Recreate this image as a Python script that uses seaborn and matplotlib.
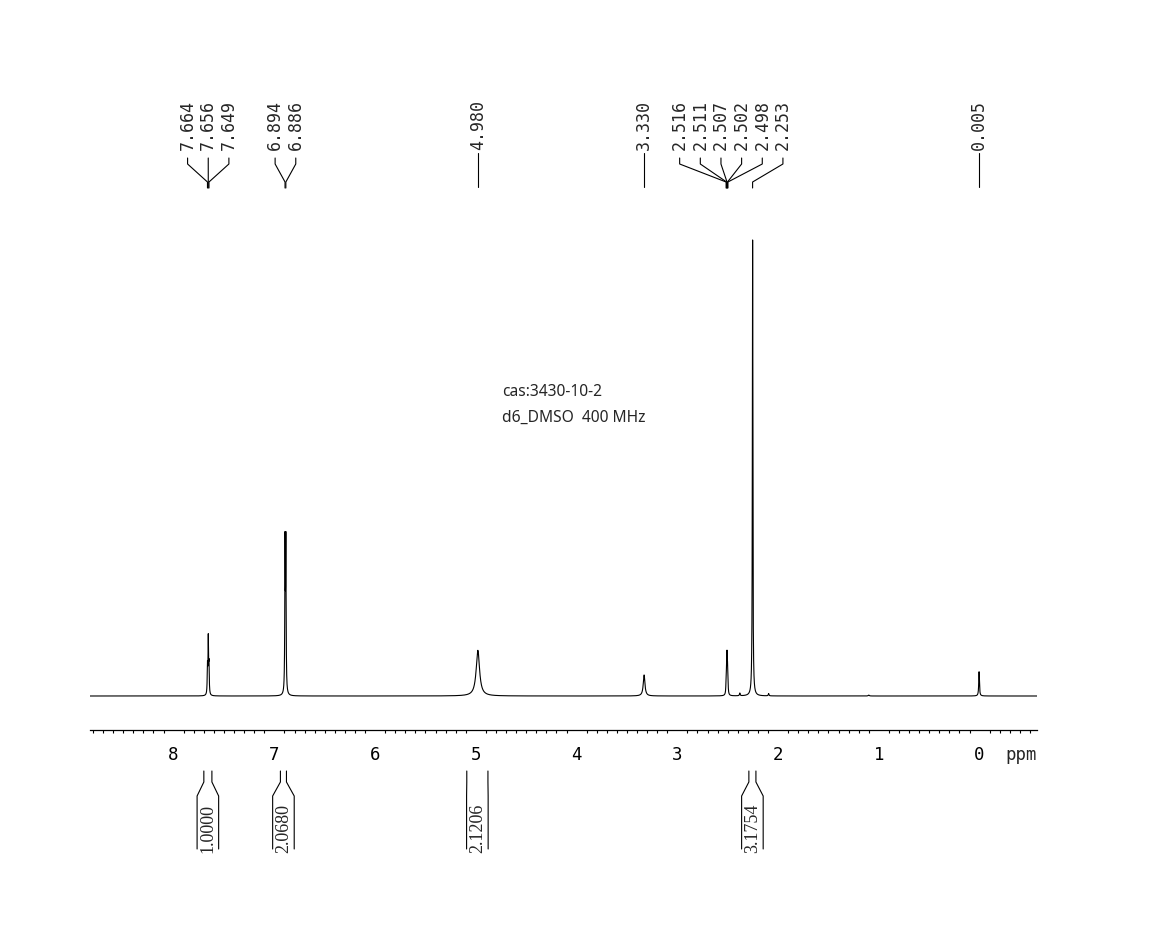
import numpy as np
import pandas as pd
import matplotlib
matplotlib.use('Agg')
import matplotlib.pyplot as plt
import matplotlib.transforms as mtransforms
import seaborn as sns

# peaks (ppm, relative height, half width in ppm)
peak_ppm = [7.664, 7.656, 7.649, 6.894, 6.886, 4.980, 3.330,
            2.516, 2.511, 2.507, 2.502, 2.498, 2.380, 2.253, 2.094, 1.100, 0.005]
peak_height = [0.06, 0.12, 0.06, 0.32, 0.32, 0.100, 0.046,
               0.020, 0.045, 0.068, 0.045, 0.020, 0.006, 1.0, 0.005, 0.002, 0.053]
peak_width = [0.003, 0.003, 0.003, 0.003, 0.003, 0.020, 0.010,
              0.003, 0.003, 0.003, 0.003, 0.003, 0.004, 0.003, 0.004, 0.006, 0.004]

# peak-pick label groups
label_groups = [
    ['7.664', '7.656', '7.649'],
    ['6.894', '6.886'],
    ['4.980'],
    ['3.330'],
    ['2.516', '2.511', '2.507', '2.502', '2.498', '2.253'],
    ['0.005'],
]

# integrals: region start, end (ppm) and value
integral_start = [7.70, 6.94, 5.09, 2.29]
integral_end = [7.62, 6.88, 4.88, 2.22]
integral_value = ['1.0000', '2.0680', '2.1206', '3.1754']

tick_ppm = [8, 7, 6, 5, 4, 3, 2, 1, 0]
x_left, x_right = 8.83, -0.57

ppm = np.linspace(x_left, x_right, 24000)
intensity = np.zeros_like(ppm)
for p, h, w in zip(peak_ppm, peak_height, peak_width):
    intensity += h / (1 + ((ppm - p) / w) ** 2)
spec = pd.DataFrame({'ppm': ppm, 'intensity': intensity})

sns.set_style('white')
plt.rcParams['font.family'] = ['DejaVu Sans Mono']

W, H = 1162, 953
fig = plt.figure(figsize=(W / 100, H / 100), dpi=100)

def fy(p):
    return 1 - p / H

ax = fig.add_axes([90 / W, fy(731), (1037 - 90) / W, fy(230) - fy(731)])
sns.lineplot(data=spec, x='ppm', y='intensity', ax=ax, color='black',
             linewidth=0.8, estimator=None, sort=False)
ax.set_xlim(x_left, x_right)
ax.set_ylim(-34 / 457, 467 / 457)
for s in ['left', 'right', 'top']:
    ax.spines[s].set_visible(False)
ax.spines['bottom'].set_linewidth(0.9)
ax.spines['bottom'].set_color('black')
ax.set_yticks([])
ax.set_xticks(tick_ppm)
ax.set_xticklabels([str(t) for t in tick_ppm])
ax.set_xticks(np.arange(-0.5, 8.81, 0.1), minor=True)
ax.tick_params(axis='x', which='major', direction='out', length=6, width=0.9,
               pad=5, labelsize=12.5, colors='black')
ax.tick_params(axis='x', which='minor', direction='out', length=2.5, width=0.8,
               bottom=True, colors='black')
ax.set_xlabel('')
ax.set_ylabel('')

tr = mtransforms.blended_transform_factory(ax.transData, fig.transFigure)
ax.text(1.0, fy(755), 'ppm', transform=mtransforms.blended_transform_factory(ax.transAxes, fig.transFigure),
        ha='right', va='center', fontsize=12.5)

# peak labels
spacing = 0.205
for grp in label_groups:
    vals = [float(v) for v in grp]
    center = np.mean(vals)
    n = len(grp)
    for i, (lab, v) in enumerate(zip(grp, vals)):
        lx = center + ((n - 1) / 2 - i) * spacing
        ax.text(lx, fy(100), lab, transform=tr, rotation=90, ha='center', va='top',
                fontsize=12, fontfamily='DejaVu Sans Mono', clip_on=False)
        if n == 1:
            xs, ys = [lx, lx], [fy(154), fy(188)]
        else:
            xs = [lx, lx, v, v]
            ys = [fy(159), fy(165), fy(183), fy(189)]
        ax.plot(xs, ys, transform=tr, color='black', lw=0.8, clip_on=False)

# integrals
half_bottom = 0.107
for a, b, val in zip(integral_start, integral_end, integral_value):
    c = (a + b) / 2
    for side in [1, -1]:
        edge = a if side == 1 else b
        wide = c + side * max(half_bottom, abs(a - b) / 2)
        ax.plot([edge, edge, wide, wide], [fy(772), fy(783), fy(797), fy(850)],
                transform=tr, color='black', lw=0.8, clip_on=False)
    ax.text(c, fy(853), val, transform=tr, rotation=90, ha='center', va='bottom',
            fontsize=13, fontfamily='Liberation Serif', clip_on=False)

ax.text(4.74, 0.667, 'cas:3430-10-2', fontsize=11.2, fontfamily='Noto Sans', va='center')
ax.text(4.74, 0.61, 'd6_DMSO  400 MHz', fontsize=11.2, fontfamily='Noto Sans', va='center')

fig.savefig('out.png', dpi=100, facecolor='white')
